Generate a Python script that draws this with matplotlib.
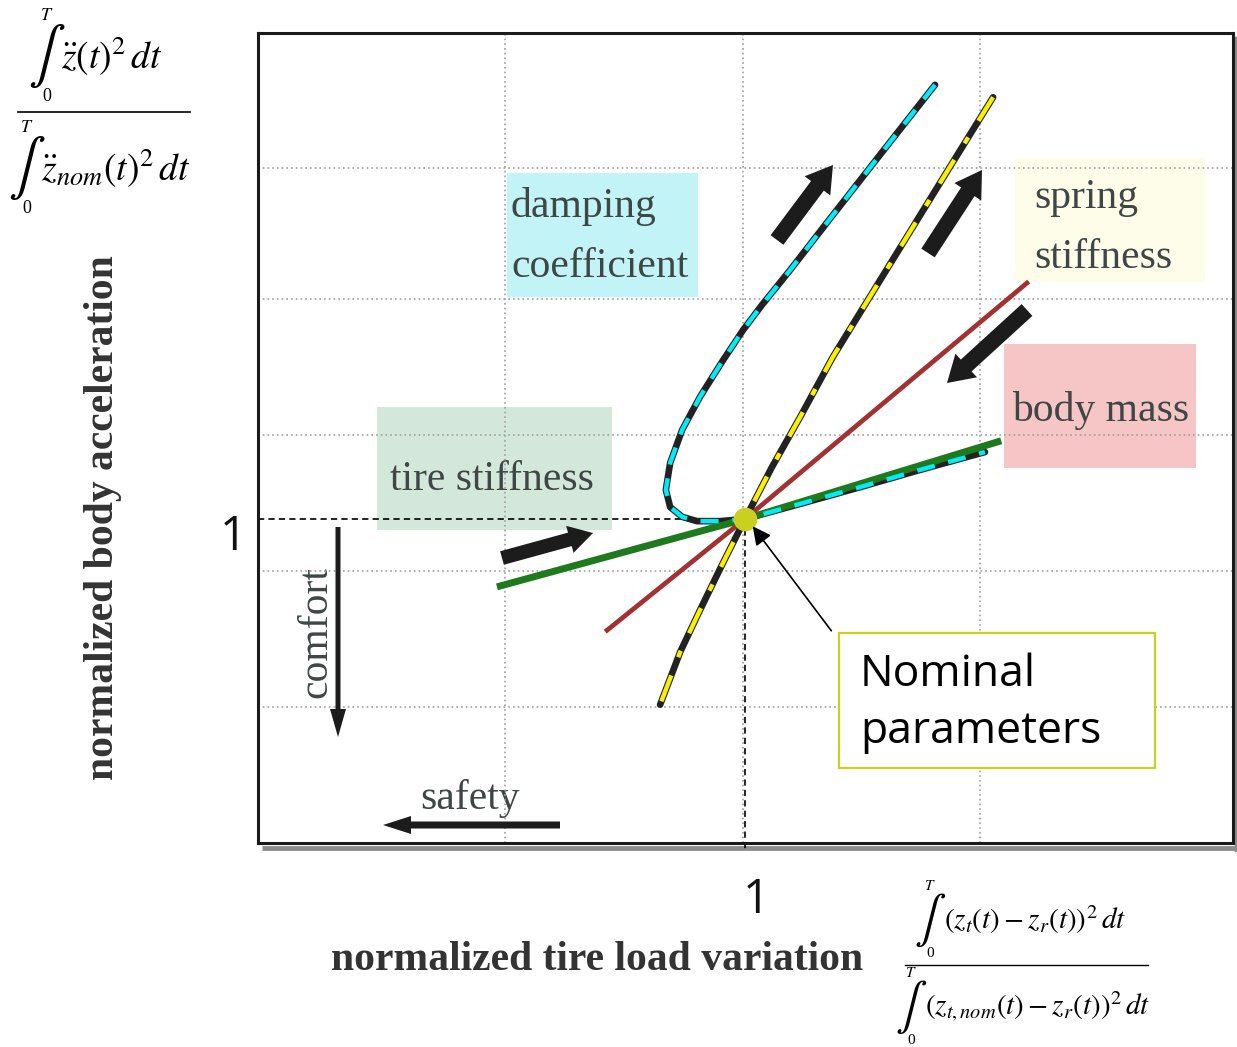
import matplotlib.pyplot as plt
from matplotlib.patches import Rectangle, FancyArrow

plt.rcParams["mathtext.fontset"] = "stix"
plt.rcParams["lines.scale_dashes"] = False

# curves, normalized so that the nominal parameter set sits at (1, 1)
damping_x = [1.396, 1.281, 1.177, 1.094, 1.035, 0.996, 0.952, 0.906, 0.869, 0.844,
             0.835, 0.844, 0.869, 0.900, 0.948, 1.000, 1.115, 1.240, 1.365, 1.500]
damping_y = [1.804, 1.674, 1.556, 1.461, 1.396, 1.350, 1.291, 1.226, 1.165, 1.104,
             1.054, 1.022, 1.004, 0.996, 0.996, 1.000, 1.028, 1.059, 1.091, 1.124]
spring_x = [1.517, 1.427, 1.323, 1.246, 1.183, 1.115, 1.056, 1.000, 0.952, 0.906,
            0.865, 0.823]
spring_y = [1.781, 1.652, 1.502, 1.391, 1.300, 1.189, 1.096, 1.000, 0.915, 0.831,
            0.754, 0.656]
mass_x = [0.7125, 1.000, 1.5875]
mass_y = [0.794, 1.000, 1.437]
tire_x = [0.490, 1.000, 1.527]
tire_y = [0.876, 1.000, 1.143]
nominal = (1.0, 1.0)
grid_x = [0.5, 0.995, 1.49]
grid_y = [0.652, 0.904, 1.156, 1.407, 1.65]

W, H = 1237, 1047
fig = plt.figure(figsize=(W / 100, H / 100), dpi=100)

deco = fig.add_axes([0, 0, 1, 1], zorder=0)
deco.set_xlim(0, W)
deco.set_ylim(H, 0)
deco.axis("off")

ax = fig.add_axes([258 / W, 1 - 843 / H, (1233 - 258) / W, (843 - 33) / H], zorder=1)
ax.set_facecolor("none")
ax.set_xlim(-0.015, 2.017)
ax.set_ylim(0.4, 1.9)
ax.set_xticks(grid_x)
ax.set_yticks(grid_y)
ax.tick_params(length=0, labelbottom=False, labelleft=False)
ax.grid(True, color="#a0a0a0", lw=1.2, ls=(0, (1.2, 2.2)))
for s in ax.spines.values():
    s.set_linewidth(2.2)
    s.set_color("#1a1a1a")

top = fig.add_axes([0, 0, 1, 1], zorder=2)
top.set_xlim(0, W)
top.set_ylim(H, 0)
top.axis("off")
top.set_facecolor("none")

# frame shadow
deco.plot([262, 1237], [848, 848], color="#8c8c8c", lw=3.5, solid_capstyle="butt")
deco.plot([1236, 1236], [38, 850], color="#8c8c8c", lw=2.5)

# coloured label boxes
serif = "Liberation Serif"
boxes = [
    (507, 173, 191, 124, "#c2f4f7"),
    (1015, 158, 190, 124, "#fefde9"),
    (1004, 344, 192, 124, "#f6c6c6"),
    (377, 407, 235, 123, "#d3e7da"),
]
for x0, y0, w, h, c in boxes:
    deco.add_patch(Rectangle((x0, y0), w, h, facecolor=c, edgecolor="none"))
lab = dict(family=serif, fontsize=30, color="#3e4646", ha="left", va="center")
deco.text(511, 207, "damping", **lab)
deco.text(511, 267, "coefficient", **lab)
deco.text(1034, 198, "spring", **lab)
deco.text(1034, 258, "stiffness", **lab)
deco.text(1012, 410, "body mass", **lab)
deco.text(390, 480, "tire stiffness", **lab)
deco.text(316, 632, "comfort", rotation=90, **{**lab, "ha": "center"})
deco.text(470, 798, "safety", **{**lab, "ha": "center"})

# curves
ax.plot(damping_x, damping_y, color="#222222", lw=4.8, zorder=3,
        solid_capstyle="round", solid_joinstyle="round")
ax.plot(tire_x, tire_y, color="#1d7a1d", lw=5.0, zorder=4)
ax.plot(damping_x, damping_y, color="#00ecf6", lw=3.2, zorder=5, dashes=(13, 10))
ax.plot(mass_x, mass_y, color="#a23232", lw=3.4, zorder=5)
ax.plot(spring_x, spring_y, color="#222222", lw=4.8, zorder=6,
        solid_capstyle="round", solid_joinstyle="round")
ax.plot(spring_x, spring_y, color="#f8f000", lw=3.2, zorder=7, dashes=(20, 14, 5, 14))
ax.plot([ax.get_xlim()[0], nominal[0]], [nominal[1], nominal[1]], color="black",
        lw=1.2, dashes=(4.5, 3), zorder=2)
ax.plot([nominal[0], nominal[0]], [nominal[1], 0.385], color="black", lw=1.2,
        dashes=(4.5, 3), zorder=2, clip_on=False)
ax.plot(*nominal, "o", ms=16, color="#c8d21e", zorder=8)

# black direction arrows
arrows = [
    ((777, 240), (833, 165), 16, 32, 26),
    ((928, 253), (982, 170), 16, 32, 26),
    ((1027, 310), (947, 383), 16, 32, 26),
    ((502, 558), (593, 533), 14, 28, 24),
    ((338, 527), (338, 737), 5, 16, 28),
    ((560, 825), (383, 825), 7, 18, 28),
]
for (x0, y0), (x1, y1), w, hw, hl in arrows:
    top.add_patch(FancyArrow(x0, y0, x1 - x0, y1 - y0, width=w, head_width=hw,
                             head_length=hl, length_includes_head=True,
                             color="#1c1c1c", lw=0))

# nominal annotation
top.add_patch(Rectangle((839, 633), 316, 135, facecolor="white", edgecolor="#c8d21e", lw=1.6))
top.annotate("", xy=(751, 524), xytext=(833, 633),
             arrowprops=dict(arrowstyle="-|>", lw=1.2, color="black", mutation_scale=28))
sans = "Open Sans"
top.text(860, 675, "Nominal", family=sans, fontsize=32, color="black", va="center")
top.text(860, 732, "parameters", family=sans, fontsize=32, color="black", va="center")
deco.text(233, 537, "1", family=sans, fontsize=34, color="#111111", ha="center", va="center")
deco.text(756, 900, "1", family=sans, fontsize=34, color="#111111", ha="center", va="center")

# axis labels
deco.text(103, 518, "normalized body acceleration", family=serif, fontsize=30,
          fontweight="bold", color="#333333", rotation=90, ha="center", va="center")
deco.text(597, 960, "normalized tire load variation", family=serif, fontsize=30,
          fontweight="bold", color="#333333", ha="center", va="center")

# formulas
def integral(x, y, body, size, lim_size, int_size, gap):
    deco.text(x, y - gap, "$T$", fontsize=lim_size, ha="center", va="bottom")
    deco.text(x, y, r"$\int$", fontsize=int_size, ha="center", va="center")
    deco.text(x, y + gap, "0", family=serif, fontsize=lim_size, ha="center", va="top")
    deco.text(x + 14, y, body, fontsize=size, ha="left", va="center")

integral(47, 56, r"$\ddot{z}(t)^2\,dt$", 27, 13, 40, 32)
deco.plot([18, 190], [112, 112], color="black", lw=1.2)
integral(27, 168, r"$\ddot{z}_{nom}(t)^2\,dt$", 27, 13, 40, 32)

integral(930, 920, r"$(z_t(t)-z_r(t))^2\,dt$", 21, 11, 34, 27)
deco.plot([905, 1148], [965, 965], color="black", lw=1.0)
integral(911, 1007, r"$(z_{t,nom}(t)-z_r(t))^2\,dt$", 21, 11, 34, 27)

fig.savefig("out.png", dpi=100)
